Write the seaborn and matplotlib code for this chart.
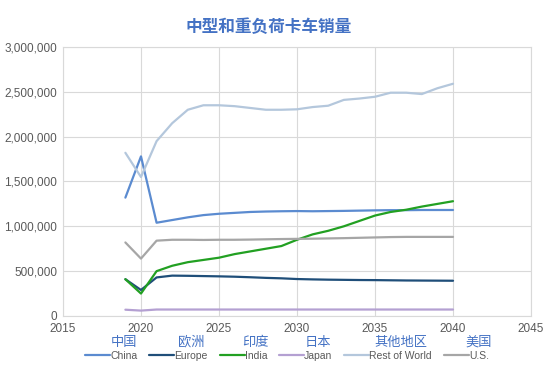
import matplotlib
matplotlib.use("Agg")
import matplotlib.pyplot as plt
import matplotlib.ticker as mticker
import seaborn as sns
import pandas as pd

years = list(range(2019, 2041))
china = [1320000, 1780000, 1040000, 1070000, 1100000, 1125000, 1140000, 1150000, 1160000, 1165000, 1168000,
         1170000, 1168000, 1170000, 1172000, 1175000, 1178000, 1180000, 1180000, 1182000, 1182000, 1182000]
europe = [410000, 290000, 430000, 450000, 448000, 445000, 442000, 438000, 432000, 425000, 420000,
          412000, 408000, 405000, 403000, 401000, 400000, 398000, 396000, 395000, 394000, 393000]
india = [410000, 250000, 500000, 560000, 600000, 625000, 650000, 690000, 720000, 750000, 780000,
         850000, 910000, 950000, 1000000, 1060000, 1120000, 1160000, 1185000, 1220000, 1250000, 1280000]
japan = [70000, 60000, 72000, 72000, 72000, 72000, 72000, 72000, 72000, 72000, 72000,
         72000, 72000, 72000, 72000, 72000, 72000, 72000, 72000, 72000, 72000, 72000]
rest_of_world = [1820000, 1550000, 1950000, 2150000, 2300000, 2350000, 2350000, 2340000, 2320000, 2300000, 2300000,
                 2305000, 2330000, 2345000, 2410000, 2425000, 2445000, 2490000, 2490000, 2475000, 2540000, 2590000]
us = [820000, 640000, 840000, 850000, 850000, 848000, 850000, 850000, 852000, 855000, 858000,
      860000, 862000, 865000, 868000, 872000, 876000, 880000, 882000, 882000, 882000, 882000]

series_en = ["China", "Europe", "India", "Japan", "Rest of World", "U.S."]
series_zh = ["中国", "欧洲", "印度", "日本", "其他地区", "美国"]
colors = ["#5B8BD0", "#1F4E79", "#22A022", "#B4A0D2", "#B4C7DC", "#A6A6A6"]
title = "中型和重负荷卡车销量"
x_ticks = [2015, 2020, 2025, 2030, 2035, 2040, 2045]
y_ticks = [0, 500000, 1000000, 1500000, 2000000, 2500000, 3000000]

values = [china, europe, india, japan, rest_of_world, us]
df = pd.concat([pd.DataFrame({"year": years, "sales": v, "region": n}) for n, v in zip(series_en, values)])

sns.set_theme(style="white")
plt.rcParams['font.family'] = ['Liberation Sans', 'Noto Sans CJK SC', 'DejaVu Sans']

fig = plt.figure(figsize=(5.5, 3.7), dpi=100)
ax = fig.add_axes([0.1145, 0.146, 0.851, 0.727])
sns.lineplot(data=df, x="year", y="sales", hue="region", hue_order=series_en,
             palette=dict(zip(series_en, colors)), linewidth=1.6, ax=ax, legend=False)

ax.set_xlim(2015, 2045)
ax.set_ylim(0, 3000000)
ax.set_xticks(x_ticks)
ax.set_yticks(y_ticks)
ax.yaxis.set_major_formatter(mticker.FuncFormatter(lambda v, p: f"{int(v):,}"))
ax.grid(True, color="#D9D9D9", linewidth=0.8)
for s in ax.spines.values():
    s.set_color("#D9D9D9")
    s.set_linewidth(0.8)
ax.tick_params(axis="both", colors="#595959", labelsize=8.5, length=0)
ax.tick_params(axis="x", pad=5)
ax.tick_params(axis="y", pad=4)
ax.set_xlabel("")
ax.set_ylabel("")

fig.text(0.489, 0.927, title, ha="center", va="center", fontsize=12, fontweight="bold",
         color="#4472C4", family=['Noto Sans CJK SC', 'DejaVu Sans'])

handles = [plt.Line2D([], [], color=c, linewidth=1.6) for c in colors]
leg = fig.legend(handles, series_en, loc="center", bbox_to_anchor=(0.522, 0.038), ncol=6, frameon=False,
                 fontsize=7.5, handlelength=2.4, handletextpad=0.0, columnspacing=1.15,
                 borderpad=0.2, borderaxespad=0.0)
for t in leg.get_texts():
    t.set_color("#595959")

fig.canvas.draw()
renderer = fig.canvas.get_renderer()
inv = fig.transFigure.inverted()
for zh, t in zip(series_zh, leg.get_texts()):
    bb = t.get_window_extent(renderer)
    x0, y0 = inv.transform((bb.x0, bb.y1))
    x1, _ = inv.transform((bb.x1, bb.y1))
    fig.text((x0 + x1) / 2, y0 + 0.006, zh, ha="center", va="bottom", fontsize=9.5, color="#4472C4",
             family=['Noto Sans CJK SC', 'DejaVu Sans'])

fig.savefig("out.png", dpi=100)
